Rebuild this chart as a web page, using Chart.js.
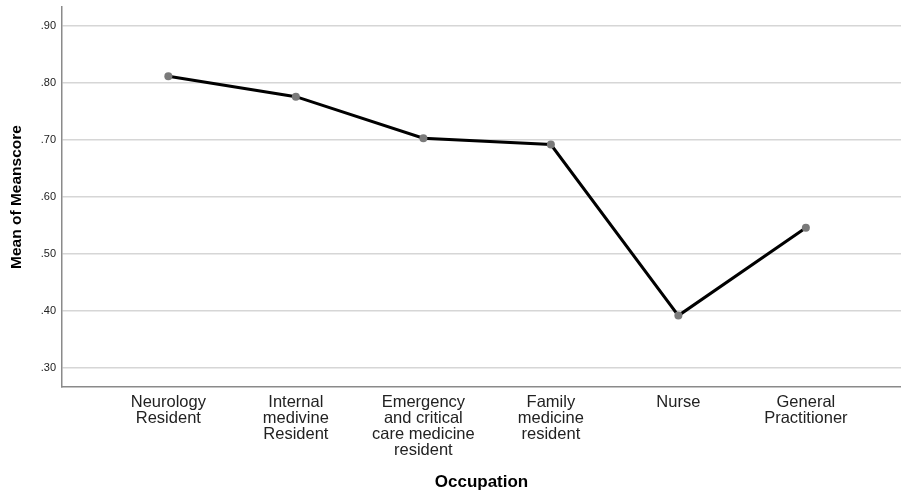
<!DOCTYPE html>
<html>
<head>
<meta charset="utf-8">
<script src="https://cdn.jsdelivr.net/npm/chart.js@4"></script>
<style>
  html, body { margin: 0; padding: 0; background: #fff; }
  #c { display: block; }
</style>
</head>
<body>
<canvas id="c" width="901" height="493"></canvas>
<script>
// occupations, shown as multi-line tick labels
var occupations = [
    ['Neurology', 'Resident'],
    ['Internal', 'medivine', 'Resident'],
    ['Emergency', 'and critical', 'care medicine', 'resident'],
    ['Family', 'medicine', 'resident'],
    ['Nurse'],
    ['General', 'Practitioner']
]
var meanScores = [0.812, 0.776, 0.703, 0.692, 0.392, 0.546]
var yTicks = [0.30, 0.40, 0.50, 0.60, 0.70, 0.80, 0.90]

var ctx = document.getElementById('c').getContext('2d')
var chart = new Chart(ctx, {
    type: 'line',
    data: {
        datasets: [{
            data: meanScores.map((v, i) => ({ x: i, y: v })),
            borderColor: '#000',
            borderWidth: 3,
            pointRadius: 4,
            pointBackgroundColor: '#7a7a7a',
            pointBorderWidth: 0,
            tension: 0,
            fill: false
        }]
    },
    options: {
        responsive: false,
        devicePixelRatio: 1,
        animation: false,
        layout: { autoPadding: false, padding: { top: 7, right: 0, left: 0, bottom: 0 } },
        plugins: { legend: { display: false }, tooltip: { enabled: false } },
        scales: {
            x: {
                type: 'linear',
                min: -0.834,
                max: 5.746,
                afterBuildTicks: function (scale) {
                    scale.ticks = occupations.map((o, i) => ({ value: i }))
                },
                afterFit: function (scale) {
                    scale.height = 106
                    scale.paddingLeft = 0
                    scale.paddingRight = 0
                },
                grid: { display: false, drawTicks: false },
                border: { display: true, color: '#8a8a8a', width: 1.5 },
                ticks: {
                    autoSkip: false,
                    maxRotation: 0,
                    padding: 7,
                    color: '#222',
                    font: { family: 'Liberation Sans, Arial, sans-serif', size: 16.5, lineHeight: 0.97 },
                    callback: function (value) { return occupations[Math.round(value)] }
                },
                title: {
                    display: true,
                    text: 'Occupation',
                    color: '#000',
                    font: { family: 'Liberation Sans, Arial, sans-serif', size: 17, weight: 'bold' },
                    padding: { top: 0, bottom: 0 }
                }
            },
            y: {
                min: 0.2667,
                max: 0.9333,
                afterBuildTicks: function (scale) {
                    scale.ticks = yTicks.map(v => ({ value: v }))
                },
                afterFit: function (scale) {
                    scale.width = 62
                    scale.paddingTop = 0
                    scale.paddingBottom = 0
                },
                grid: { color: '#d6d6d6', lineWidth: 1.5, drawTicks: false },
                border: { display: true, color: '#8a8a8a', width: 1.5 },
                ticks: {
                    padding: 6,
                    color: '#222',
                    font: { family: 'Liberation Sans, Arial, sans-serif', size: 11 },
                    callback: function (value) { return value.toFixed(2).replace(/^0/, '') }
                },
                title: {
                    display: true,
                    text: 'Mean of Meanscore',
                    color: '#000',
                    font: { family: 'Liberation Sans, Arial, sans-serif', size: 15.5, weight: 'bold' },
                    padding: { top: 7, bottom: 0 }
                }
            }
        }
    }
})
</script>
</body>
</html>
